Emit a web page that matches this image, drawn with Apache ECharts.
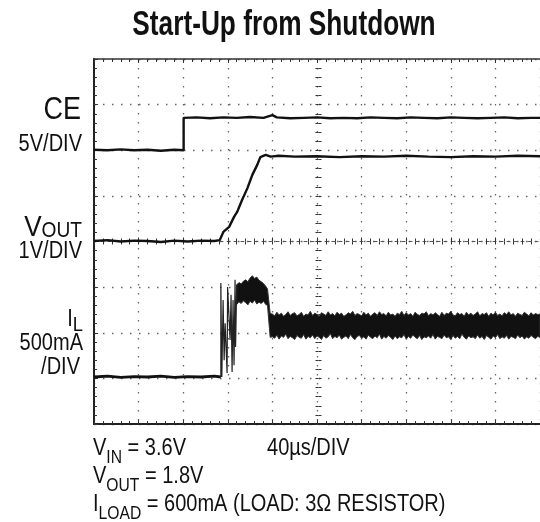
<!DOCTYPE html>
<html lang="en">
<head>
  <meta charset="UTF-8">
  <title>Start-Up from Shutdown</title>
  <script src="https://cdn.jsdelivr.net/npm/echarts/dist/echarts.min.js"></script>
  <style>
    html, body { margin: 0; padding: 0; background: #fff; }
    #chart { width: 540px; height: 522px; }
  </style>
</head>
<body>
<div id="chart"></div>
<script>
  // scope screen: x in divisions (40us/div), y in divisions from bottom
  const ceT = [0, 0.3, 0.6, 0.9, 1.2, 1.5, 1.8, 2.01, 2.01, 2.3, 2.6, 2.9, 3.2, 3.5, 3.8, 4.0, 4.1, 4.4, 4.7, 5.0,
    5.3, 5.6, 5.9, 6.2, 6.5, 6.8, 7.1, 7.4, 7.7, 8.0, 8.3, 8.6, 8.9, 9.2, 9.5, 9.8, 10];
  const ceV = [6.01, 6.00, 6.02, 6.00, 6.01, 5.99, 6.01, 6.00, 6.71, 6.72, 6.70, 6.72, 6.71, 6.73, 6.71, 6.77, 6.72, 6.70, 6.71, 6.72,
    6.70, 6.71, 6.70, 6.72, 6.71, 6.70, 6.72, 6.71, 6.70, 6.72, 6.71, 6.70, 6.71, 6.72, 6.70, 6.71, 6.71];

  const voutT = [0, 0.3, 0.6, 0.9, 1.2, 1.5, 1.8, 2.1, 2.4, 2.7, 2.82, 2.90, 3.03, 3.14, 3.21, 3.32, 3.44, 3.55, 3.66, 3.73,
    3.85, 3.96, 4.14, 4.5, 5.0, 5.5, 6.0, 6.5, 7.0, 7.5, 8.0, 8.5, 9.0, 9.5, 10];
  const voutV = [4.01, 4.03, 4.00, 4.02, 4.01, 3.99, 4.02, 4.00, 4.02, 4.01, 4.03, 4.21, 4.32, 4.54, 4.65, 4.91, 5.17, 5.46, 5.68, 5.85,
    5.90, 5.86, 5.88, 5.86, 5.87, 5.85, 5.87, 5.86, 5.88, 5.86, 5.85, 5.87, 5.86, 5.88, 5.87];

  // inductor current: quiet part, ringing at turn-on
  const ilBaseT = [0, 0.3, 0.6, 0.9, 1.2, 1.5, 1.8, 2.1, 2.4, 2.7, 2.844];
  const ilBaseV = [1.03, 1.05, 1.02, 1.04, 1.03, 1.05, 1.02, 1.04, 1.03, 1.05, 1.03];

  const ilRingT = [2.844, 2.844, 2.866, 2.895, 2.918, 2.940, 2.984, 2.996, 3.051, 3.073, 3.096, 3.118, 3.140, 3.163, 3.174, 3.2];
  const ilRingV = [1.03, 3.09, 1.03, 2.72, 1.40, 2.21, 1.12, 3.00, 1.84, 2.83, 1.14, 2.72, 1.29, 3.16, 1.69, 3.05];

  // current plateau while the output charges (edges of the noisy trace)
  const ilPlateauT = [3.20, 3.25, 3.30, 3.35, 3.40, 3.45, 3.50, 3.55, 3.60, 3.65, 3.70, 3.75, 3.80, 3.85, 3.89, 3.95];
  const ilPlateauHigh = [3.05, 3.10, 3.07, 3.13, 3.16, 3.12, 3.20, 3.25, 3.19, 3.22, 3.15, 3.12, 3.08, 3.02, 2.96, 2.42];
  const ilPlateauLow = [2.62, 2.68, 2.64, 2.70, 2.66, 2.61, 2.69, 2.65, 2.72, 2.63, 2.67, 2.64, 2.69, 2.62, 2.60, 1.90];

  // steady state band, one sample every 0.05 div from 4.0 div
  const ilSteadyStart = 4.0, ilSteadyStep = 0.05;
  const ilSteadyHigh = [
    2.41, 2.37, 2.45, 2.39, 2.43, 2.36, 2.40, 2.46, 2.38, 2.42,
    2.44, 2.37, 2.40, 2.45, 2.36, 2.41, 2.39, 2.47, 2.38, 2.43,
    2.40, 2.36, 2.44, 2.41, 2.38, 2.46, 2.39, 2.42, 2.37, 2.45,
    2.40, 2.43, 2.36, 2.39, 2.44, 2.41, 2.47, 2.38, 2.42, 2.40,
    2.37, 2.45, 2.39, 2.43, 2.36, 2.41, 2.44, 2.38, 2.46, 2.40,
    2.42, 2.37, 2.45, 2.39, 2.41, 2.36, 2.43, 2.40, 2.47, 2.38,
    2.44, 2.39, 2.42, 2.36, 2.45, 2.40, 2.38, 2.43, 2.41, 2.46,
    2.37, 2.42, 2.39, 2.44, 2.40, 2.36, 2.45, 2.38, 2.43, 2.41,
    2.47, 2.39, 2.37, 2.44, 2.40, 2.42, 2.36, 2.45, 2.39, 2.43,
    2.38, 2.41, 2.46, 2.37, 2.42, 2.40, 2.44, 2.36, 2.43, 2.39,
    2.45, 2.38, 2.41, 2.37, 2.44, 2.40, 2.46, 2.39, 2.42, 2.36,
    2.43, 2.40, 2.38, 2.45, 2.41, 2.37, 2.44, 2.39, 2.42, 2.40,
    2.41];
  const ilSteadyLow = [
    1.91, 1.88, 1.95, 1.86, 1.93, 1.90, 1.97, 1.87, 1.92, 1.89,
    1.85, 1.94, 1.90, 1.88, 1.96, 1.86, 1.92, 1.89, 1.95, 1.87,
    1.93, 1.90, 1.85, 1.94, 1.88, 1.91, 1.98, 1.87, 1.92, 1.89,
    1.95, 1.86, 1.90, 1.93, 1.87, 1.96, 1.89, 1.85, 1.92, 1.94,
    1.88, 1.91, 1.86, 1.95, 1.90, 1.87, 1.93, 1.89, 1.97, 1.86,
    1.92, 1.88, 1.94, 1.90, 1.85, 1.93, 1.87, 1.91, 1.89, 1.96,
    1.86, 1.92, 1.88, 1.95, 1.90, 1.87, 1.94, 1.85, 1.91, 1.89,
    1.93, 1.88, 1.96, 1.86, 1.92, 1.90, 1.87, 1.95, 1.89, 1.91,
    1.85, 1.94, 1.88, 1.92, 1.87, 1.97, 1.90, 1.86, 1.93, 1.89,
    1.91, 1.87, 1.95, 1.88, 1.92, 1.85, 1.94, 1.90, 1.86, 1.93,
    1.89, 1.96, 1.87, 1.91, 1.88, 1.94, 1.86, 1.92, 1.90, 1.87,
    1.95, 1.89, 1.93, 1.86, 1.91, 1.88, 1.94, 1.90, 1.87, 1.92,
    1.90];

  const FONT = "'Liberation Sans', Arial, sans-serif";
  const INK = '#111';
  const SX = 0.87; // squeeze text to look like the narrow print face

  const pairs = (t, v) => t.map((x, i) => [x, v[i]]);

  const bandT = ilPlateauT.concat(ilSteadyHigh.map((_, i) => +(ilSteadyStart + i * ilSteadyStep).toFixed(2)));
  const bandHigh = ilPlateauHigh.concat(ilSteadyHigh);
  const bandLow = ilPlateauLow.concat(ilSteadyLow);

  function frameAxis(pos, opts) {
    return Object.assign({
      type: 'value', position: pos, min: 0, max: pos === 'left' || pos === 'right' ? 8 : 10, interval: 1,
      axisLine: { show: true, onZero: false, lineStyle: { color: '#222', width: 2 } },
      axisTick: { show: true, inside: true, length: 4, lineStyle: { color: '#333', width: 1 } },
      minorTick: { show: true, splitNumber: 5, length: 3, lineStyle: { color: '#333', width: 1 } },
      axisLabel: { show: false },
      splitLine: { show: false }
    }, opts);
  }

  const dots = { color: '#666', width: 1.3, type: [1.5, 7.5] };

  const xAxes = [
    frameAxis('bottom', { splitLine: { show: true, lineStyle: dots } }),
    frameAxis('top', { axisLine: { show: true, onZero: false, lineStyle: { color: '#333', width: 1.5 } } }),
    // centre horizontal graticule, ticks on both sides
    frameAxis('bottom', { offset: -182.5, axisLine: { show: true, onZero: false, lineStyle: { color: '#555', width: 1, type: [3, 4] } } }),
    frameAxis('bottom', { offset: -182.5, axisTick: { show: true, inside: false, length: 3, lineStyle: { color: '#333' } }, axisLine: { show: false } })
  ];
  const yAxes = [
    frameAxis('left', { splitLine: { show: true, lineStyle: dots } }),
    // centre vertical graticule
    frameAxis('left', { offset: -224.5, axisLine: { show: false }, axisTick: { show: true, inside: true, length: 3, lineStyle: { color: '#333' } } }),
    frameAxis('left', { offset: -224.5, axisLine: { show: false }, axisTick: { show: true, inside: false, length: 3, lineStyle: { color: '#333' } } })
  ];

  const trace = (name, data, width, color) => ({
    name, type: 'line', data, showSymbol: false, symbol: 'none', xAxisIndex: 0, yAxisIndex: 0,
    lineStyle: { color: color || INK, width }, z: 5
  });

  const series = [
    trace('CE', pairs(ceT, ceV), 2.4),
    trace('VOUT', pairs(voutT, voutV), 2.4),
    trace('IL', pairs(ilBaseT, ilBaseV), 2.8),
    trace('IL ring', pairs(ilRingT, ilRingV), 1.2, '#222'),
    {
      // noisy current band, filled between its low and high edges
      name: 'IL band', type: 'custom', coordinateSystem: 'cartesian2d', xAxisIndex: 0, yAxisIndex: 0, z: 5,
      data: bandT.map((t, i) => [t, bandLow[i], bandHigh[i]]),
      encode: { x: 0, y: [1, 2] },
      renderItem(params, api) {
        if (params.dataIndex !== 0) return null;
        const top = bandT.map((t, i) => api.coord([t, bandHigh[i]]));
        const bottom = bandT.map((t, i) => api.coord([t, bandLow[i]])).reverse();
        return {
          type: 'polygon', shape: { points: top.concat(bottom) },
          style: { fill: INK, stroke: '#333', lineWidth: 1 }
        };
      }
    }
  ];

  const txt = (x, y, text, size, align, extra) => ({
    type: 'text', x, y, z: 10, scaleX: SX,
    style: Object.assign({ text, fill: INK, font: size + 'px ' + FONT, align, verticalAlign: 'middle' }, extra || {})
  });

  const subRich = (big, small, lift) => ({
    m: { fontSize: big, lineHeight: big, fontFamily: FONT, verticalAlign: 'bottom', padding: [0, 0, lift, 0] },
    s: { fontSize: small, lineHeight: small, fontFamily: FONT, verticalAlign: 'bottom' }
  });

  const graphic = [
    { type: 'text', x: 284, y: 25, z: 10, scaleX: 0.75,
      style: { text: 'Start-Up from Shutdown', fill: INK, font: 'bold 35px ' + FONT, align: 'center', verticalAlign: 'middle' } },
    txt(81, 110.5, 'CE', 31, 'right'),
    txt(82, 145, '5V/DIV', 23, 'right'),
    txt(82, 242.4, '{m|V}{s|OUT}', 23, 'right', { verticalAlign: 'bottom', rich: subRich(30, 22, 0) }),
    txt(82, 252, '1V/DIV', 23, 'right'),
    txt(83, 335.3, '{m|I}{s|L}', 23, 'right', { verticalAlign: 'bottom', rich: subRich(23, 21, 4) }),
    txt(83, 344, '500mA', 23, 'right'),
    txt(80, 368, '/DIV', 23, 'right'),
    txt(93, 466.6, '{m|V}{s|IN}{m| = 3.6V}', 23, 'left', { verticalAlign: 'bottom', rich: subRich(23, 18, 6) }),
    txt(267, 448.5, '40µs/DIV', 23, 'left'),
    txt(93, 494.6, '{m|V}{s|OUT}{m| = 1.8V}', 23, 'left', { verticalAlign: 'bottom', rich: subRich(23, 18, 6) }),
    txt(93, 522.6, '{m|I}{s|LOAD}{m| = 600mA (LOAD: 3Ω RESISTOR)}', 23, 'left', { verticalAlign: 'bottom', rich: subRich(23, 18, 6) })
  ];

  const chart = echarts.init(document.getElementById('chart'), null, { renderer: 'canvas' });
  chart.setOption({
    animation: false,
    backgroundColor: '#fff',
    grid: { left: 94, top: 59, width: 449, height: 365, containLabel: false },
    xAxis: xAxes,
    yAxis: yAxes,
    series,
    graphic
  });
</script>
</body>
</html>
